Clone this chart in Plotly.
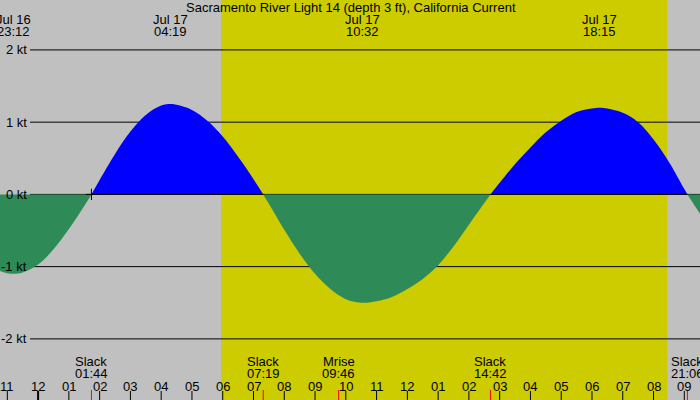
import plotly.graph_objects as go
from datetime import datetime

# ---------------- data ----------------
title_text = "Sacramento River Light 14 (depth 3 ft), California Current"

# current speed samples (hours after Jul 17 00:00, knots)
speed_hours = [-1.5, -1.0, -0.8, -0.5, 0.0, 0.5, 1.0, 1.5, 1.733,
               2.0, 2.5, 3.0, 3.5, 4.0, 4.317, 4.5, 5.0, 5.5, 6.0, 6.5, 7.0, 7.317,
               7.5, 8.0, 8.5, 9.0, 9.5, 10.0, 10.533, 11.0, 11.5, 12.0, 12.5, 13.0,
               13.5, 14.0, 14.5, 14.7,
               15.0, 15.5, 16.0, 16.5, 17.0, 17.5, 18.0, 18.25, 18.5, 19.0, 19.5,
               20.0, 20.5, 21.0, 21.1, 21.5, 22.0]
speed_kt = [-1.02, -1.09, -1.10, -1.08, -0.97, -0.76, -0.48, -0.16, 0.0,
            0.20, 0.56, 0.87, 1.10, 1.23, 1.25, 1.24, 1.17, 1.02, 0.80, 0.52, 0.21, 0.0,
            -0.13, -0.49, -0.82, -1.10, -1.31, -1.45, -1.50, -1.48, -1.42, -1.31, -1.17, -0.98,
            -0.72, -0.42, -0.12, 0.0,
            0.16, 0.42, 0.65, 0.86, 1.02, 1.14, 1.19, 1.20, 1.19, 1.13, 1.00,
            0.76, 0.45, 0.075, 0.0, -0.26, -0.58]

# max / min current events (top labels)
peak_dates = ["Jul 16", "Jul 17", "Jul 17", "Jul 17"]
peak_times = ["23:12", "04:19", "10:32", "18:15"]

# slack / moonrise events (bottom labels)
event_names = ["Slack", "Slack", "Mrise", "Slack", "Slack"]
event_times = ["01:44", "07:19", "09:46", "14:42", "21:06"]

# daylight (sunrise, sunset)
daylight = ["05:57", "20:27"]

# hour ticks along the bottom
hour_ticks = list(range(-1, 22))
hour_labels = ["11", "12", "01", "02", "03", "04", "05", "06", "07", "08", "09", "10",
               "11", "12", "01", "02", "03", "04", "05", "06", "07", "08", "09"]

kt_ticks = [2, 1, 0, -1, -2]
kt_labels = ["2 kt", "1 kt", "0 kt", "-1 kt", "-2 kt"]

# -------------- helpers ----------------
def to_hours(hhmm, date="Jul 17"):
    h, m = hhmm.split(":")
    v = int(h) + int(m) / 60.0
    if date == "Jul 16":
        v -= 24
    return v

X_RANGE = [-1.238, 21.51]
Y_RANGE = [-2.846, 2.691]
FONT = "Liberation Sans, Arial, sans-serif"
FS = 13
BLUE = "#0000FF"
GREEN = "#2E8B57"
YELLOW = "#CCCC00"
GRAY = "#C0C0C0"

def py(px):  # pixel row -> paper y
    return 1 - px / 400.0

fig = go.Figure()

# split the series into lobes between zero crossings
lobes = []
cur_x, cur_y = [], []
for x, y in zip(speed_hours, speed_kt):
    cur_x.append(x)
    cur_y.append(y)
    if y == 0 and len(cur_x) > 1:
        lobes.append((cur_x, cur_y))
        cur_x, cur_y = [x], [y]
if len(cur_x) > 1:
    lobes.append((cur_x, cur_y))

pos_lobes = [l for l in lobes if max(l[1]) > 0]
neg_lobes = [l for l in lobes if min(l[1]) < 0]

for lx, ly in pos_lobes:
    fig.add_trace(go.Scatter(x=lx, y=ly, mode="lines", line=dict(width=0, shape="spline", color=BLUE),
                             fill="tozeroy", fillcolor=BLUE, hoverinfo="skip"))
# zero line along the flood lobes
for lx, ly in pos_lobes:
    fig.add_trace(go.Scatter(x=[lx[0], lx[-1]], y=[0, 0], mode="lines",
                             line=dict(width=1, color="black"), hoverinfo="skip"))
for lx, ly in neg_lobes:
    fig.add_trace(go.Scatter(x=lx, y=ly, mode="lines", line=dict(width=0, shape="spline", color=GREEN),
                             fill="tozeroy", fillcolor=GREEN, hoverinfo="skip"))

# marker at first slack
t_first = to_hours(event_times[0])
fig.add_trace(go.Scatter(x=[t_first], y=[0], mode="markers",
                         marker=dict(symbol="cross-thin", size=8, line=dict(width=1, color="black")),
                         hoverinfo="skip"))

shapes = []
# daylight band
shapes.append(dict(type="rect", xref="x", yref="paper", x0=to_hours(daylight[0]), x1=to_hours(daylight[1]),
                   y0=0, y1=1, fillcolor=YELLOW, line=dict(width=0), layer="below"))
# grid lines
for k in kt_ticks:
    shapes.append(dict(type="line", xref="paper", yref="y", x0=30 / 700, x1=1, y0=k, y1=k,
                       line=dict(color="black", width=1), layer="below"))
# hour ticks
for h in hour_ticks:
    shapes.append(dict(type="line", xref="x", yref="paper", x0=h, x1=h, y0=0, y1=9 / 400,
                       line=dict(color="black", width=2 if h == 0 else 1), layer="above"))
# event ticks
for et in event_times:
    t = to_hours(et)
    shapes.append(dict(type="line", xref="x", yref="paper", x0=t, x1=t, y0=0, y1=10 / 400,
                       line=dict(color="red", width=1), layer="above"))

ann = []
fnt = dict(family=FONT, size=FS, color="black")
ann.append(dict(text=title_text, xref="paper", yref="paper", x=350.7 / 700, y=py(7.5),
                xanchor="center", yanchor="middle", showarrow=False, font=fnt))
for d, tm in zip(peak_dates, peak_times):
    t = to_hours(tm, d)
    ann.append(dict(text=d, xref="x", yref="paper", x=t, y=py(19.5), xanchor="center", yanchor="middle",
                    showarrow=False, font=fnt))
    ann.append(dict(text=tm, xref="x", yref="paper", x=t, y=py(31.8), xanchor="center", yanchor="middle",
                    showarrow=False, font=fnt))
for nm, tm in zip(event_names, event_times):
    t = to_hours(tm)
    ann.append(dict(text=nm, xref="x", yref="paper", x=t, y=py(361.5), xanchor="center", yanchor="middle",
                    showarrow=False, font=fnt))
    ann.append(dict(text=tm, xref="x", yref="paper", x=t, y=py(373.5), xanchor="center", yanchor="middle",
                    showarrow=False, font=fnt))
for h, lab in zip(hour_ticks, hour_labels):
    ann.append(dict(text=lab, xref="x", yref="paper", x=h, y=py(386), xanchor="center", yanchor="middle",
                    showarrow=False, font=fnt))
for k, lab in zip(kt_ticks, kt_labels):
    ann.append(dict(text=lab, xref="paper", yref="y", x=28.5 / 700, y=k, xanchor="right", yanchor="middle",
                    showarrow=False, font=fnt))

fig.update_layout(
    width=700, height=400,
    margin=dict(l=0, r=0, t=0, b=0, pad=0),
    plot_bgcolor=GRAY, paper_bgcolor=GRAY,
    showlegend=False,
    xaxis=dict(range=X_RANGE, visible=False, fixedrange=True),
    yaxis=dict(range=Y_RANGE, visible=False, fixedrange=True),
    shapes=shapes,
    annotations=ann,
)

fig.write_html("out.html", config={"displayModeBar": False})
